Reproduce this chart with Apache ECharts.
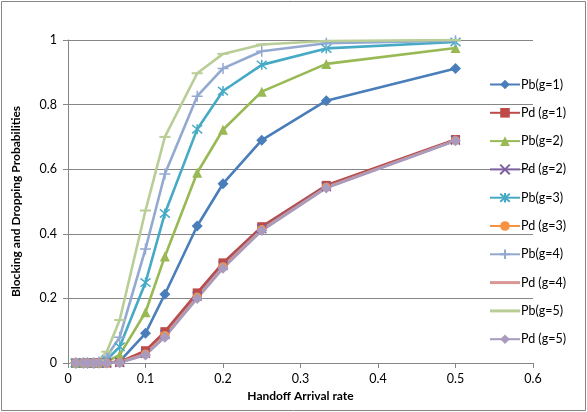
<!DOCTYPE html>
<html>
<head>
<meta charset="utf-8">
<script src="https://cdn.jsdelivr.net/npm/echarts@6/dist/echarts.min.js"></script>
<style>
  html, body { margin: 0; padding: 0; background: #fff; }
  #chart { width: 587px; height: 412px; }
</style>
</head>
<body>
<div id="chart"></div>
<script>
// handoff arrival rate (x)
const rates = [0.01, 0.02, 0.025, 0.0333, 0.04, 0.05, 0.0667, 0.1, 0.125, 0.1667, 0.2, 0.25, 0.3333, 0.5]

// blocking / dropping probabilities per guard channel count
const pb1 = [0, 0, 0, 0, 0, 0.001, 0.005, 0.092, 0.213, 0.424, 0.555, 0.69, 0.812, 0.912]
const pd1 = [0, 0, 0, 0, 0, 0, 0.003, 0.038, 0.097, 0.217, 0.31, 0.422, 0.55, 0.692]
const pb2 = [0, 0, 0, 0, 0, 0.004, 0.025, 0.157, 0.33, 0.589, 0.722, 0.84, 0.926, 0.975]
const pd2 = [0, 0, 0, 0, 0, 0, 0.002, 0.03, 0.088, 0.207, 0.302, 0.416, 0.546, 0.69]
const pb3 = [0, 0, 0, 0, 0.001, 0.01, 0.05, 0.249, 0.463, 0.724, 0.842, 0.923, 0.974, 0.994]
const pd3 = [0, 0, 0, 0, 0, 0, 0.002, 0.028, 0.085, 0.204, 0.298, 0.413, 0.544, 0.689]
const pb4 = [0, 0, 0, 0, 0.003, 0.02, 0.08, 0.353, 0.585, 0.826, 0.912, 0.965, 0.99, 0.998]
const pd4 = [0, 0, 0, 0, 0, 0, 0.002, 0.027, 0.082, 0.202, 0.296, 0.411, 0.543, 0.689]
const pb5 = [0, 0, 0, 0.002, 0.008, 0.035, 0.133, 0.472, 0.70, 0.897, 0.957, 0.986, 0.997, 1.0]
const pd5 = [0, 0, 0, 0, 0, 0, 0.001, 0.025, 0.08, 0.2, 0.293, 0.41, 0.542, 0.688]

const xTicks = ['0', '0.1', '0.2', '0.3', '0.4', '0.5', '0.6']
const yTicks = ['0', '0.2', '0.4', '0.6', '0.8', '1']

const font = 'Lato, "Open Sans", sans-serif'
const axisGray = '#868686'

const pair = (ys) => rates.map((x, i) => [x, ys[i]])

// marker shapes
const crossX = 'path://M0,0L10,10M10,0L0,10'
const star = 'path://M0,0L10,10M10,0L0,10M5,-1L5,11'
const plus = 'path://M5,0L5,10M0,5L10,5'
// plain line for legend entries without a visible marker
const lineIcon = 'path://M0,0H30V3H0Z'

function line (name, data, color, symbol, size, stroked) {
  return {
    name: name,
    type: 'line',
    data: pair(data),
    symbol: symbol,
    symbolSize: size,
    showSymbol: symbol !== 'none',
    lineStyle: { color: color, width: 2.6 },
    itemStyle: stroked
      ? { color: 'rgba(0,0,0,0)', borderColor: color, borderWidth: 1.5 }
      : { color: color },
    emphasis: { disabled: true },
    animation: false
  }
}

const chart = echarts.init(document.getElementById('chart'))
const option = {
  backgroundColor: '#fff',
  textStyle: { fontFamily: font },
  graphic: [{
    type: 'rect',
    shape: { x: 1.5, y: 1.5, width: 584, height: 409 },
    style: { fill: 'none', stroke: axisGray, lineWidth: 1 },
    silent: true
  }],
  grid: { left: 68, right: 54, top: 40, bottom: 49 },
  legend: {
    orient: 'vertical',
    left: 484,
    top: 73,
    itemWidth: 30,
    itemHeight: 12,
    itemGap: 15.3,
    textStyle: { fontFamily: font, fontSize: 12.5, color: '#000', padding: [0, 0, 0, -4] },
    data: [
      'Pb(g=1)', 'Pd (g=1)', 'Pb(g=2)', 'Pd (g=2)', 'Pb(g=3)', 'Pd (g=3)', 'Pb(g=4)',
      { name: 'Pd (g=4)', icon: lineIcon, itemStyle: { color: '#D99694' } },
      { name: 'Pb(g=5)', icon: lineIcon, itemStyle: { color: '#B9CD96' } },
      'Pd (g=5)'
    ]
  },
  xAxis: {
    type: 'value',
    min: 0,
    max: 0.6,
    interval: 0.1,
    name: 'Handoff Arrival rate',
    nameLocation: 'middle',
    nameGap: 27,
    nameTextStyle: { fontFamily: font, fontSize: 12, fontWeight: 'bold', color: '#000' },
    axisLine: { show: true, lineStyle: { color: axisGray } },
    axisTick: { show: true, length: 5, lineStyle: { color: axisGray } },
    axisLabel: {
      fontSize: 12.5, color: '#000', margin: 9,
      formatter: (v) => xTicks[Math.round(v * 10)]
    },
    splitLine: { show: false }
  },
  yAxis: {
    type: 'value',
    min: 0,
    max: 1,
    interval: 0.2,
    name: 'Blocking and Dropping Probabilities',
    nameLocation: 'middle',
    nameGap: 46,
    nameTextStyle: { fontFamily: font, fontSize: 12, fontWeight: 'bold', color: '#000' },
    axisLine: { show: true, lineStyle: { color: axisGray } },
    axisTick: { show: true, length: 5, lineStyle: { color: axisGray } },
    axisLabel: {
      fontSize: 12.5, color: '#000', margin: 11,
      formatter: (v) => yTicks[Math.round(v * 5)]
    },
    splitLine: { show: true, lineStyle: { color: axisGray, width: 1 } }
  },
  series: [
    line('Pb(g=1)', pb1, '#4A7EBB', 'diamond', 11, false),
    line('Pd (g=1)', pd1, '#BE4B48', 'rect', 9, false),
    line('Pb(g=2)', pb2, '#98B954', 'triangle', 10, false),
    line('Pd (g=2)', pd2, '#7D60A0', crossX, 9, true),
    line('Pb(g=3)', pb3, '#46AAC5', star, 10, true),
    line('Pd (g=3)', pd3, '#F69240', 'circle', 9, false),
    line('Pb(g=4)', pb4, '#93A9D0', plus, 11, true),
    line('Pd (g=4)', pd4, '#D99694', 'none', 0, false),
    line('Pb(g=5)', pb5, '#B9CD96', 'rect', [11, 2], false),
    line('Pd (g=5)', pd5, '#A99BBD', 'diamond', 11, false)
  ]
}
chart.setOption(option)
</script>
</body>
</html>
